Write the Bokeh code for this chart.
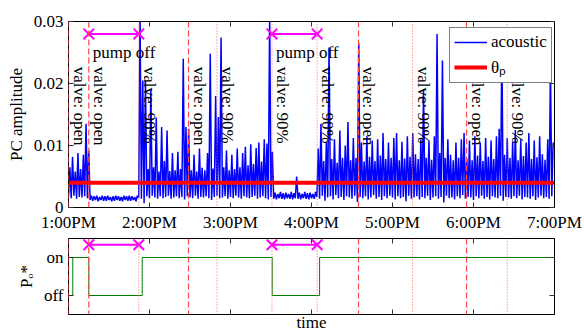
import numpy as np
from bokeh.plotting import figure
from bokeh.layouts import column
from bokeh.models import Range1d, FixedTicker, LinearAxis, Span, Label, Legend, LegendItem
from bokeh.embed import file_html
from bokeh.resources import INLINE

FONT = "Liberation Serif"

# ---------------- data ----------------
hour_ticks = [13, 14, 15, 16, 17, 18, 19]
hour_labels = ["1:00PM", "2:00PM", "3:00PM", "4:00PM", "5:00PM", "6:00PM", "7:00PM"]
amp_ticks = [0, 0.01, 0.02, 0.03]
amp_labels = ["0", "0.01", "0.02", "0.03"]
state_ticks = [0, 1]
state_labels = ["off", "on"]

# acoustic PC amplitude read per 2-minute bin from 1:00PM (units of 1e-3): bin peak and bin trough
bin_minutes = 2
peak_active1 = [6.5, 8.2, 5.8, 8.8, 6.2, 8.5, 13.5, 9.2]
peak_pumpoff1 = [1.9, 1.8, 1.9, 1.7, 1.9, 1.8, 1.9, 1.7, 1.8, 1.9, 1.8, 1.7, 1.9, 1.8, 1.9, 1.8, 1.7, 1.9]
peak_active2 = [31.0, 20.5, 20.5, 6.2, 19.0, 6.5, 14.5, 5.8, 13.0, 7.5,
                12.4, 5.9, 8.8, 6.0, 9.0, 6.2, 24.0, 13.0, 12.7, 6.0,
                8.5, 5.8, 9.5, 6.4, 6.0, 8.8, 24.8, 6.3, 18.0, 14.6,
                27.4, 6.5, 9.2, 6.0, 8.5, 6.2, 9.5, 6.5, 8.8, 9.8,
                6.8, 10.2, 7.0, 9.6, 10.5, 7.4, 11.0, 10.3, 31.0, 9.0]
peak_pumpoff2 = [2.4, 2.2, 2.5, 2.3, 2.4, 2.2, 2.5, 2.3, 5.0, 2.4, 2.2, 2.5, 2.3, 2.4, 2.2, 2.5]
peak_active3 = [9.5, 13.5, 7.5, 10.5, 25.8, 7.8, 11.0, 7.2, 12.4, 8.0,
                10.0, 13.8, 7.6, 11.2, 8.0, 26.5, 10.5, 7.4, 11.5, 8.2,
                10.8, 7.5, 11.0, 8.4, 12.0, 7.8, 10.5, 8.0, 11.2, 12.0,
                7.6, 10.6, 7.9, 11.5, 8.2, 12.0, 8.6, 7.8, 11.0, 19.0,
                8.0, 10.8, 7.7, 11.5, 28.0, 8.8, 23.7, 8.0, 11.0, 8.5,
                7.6, 10.5, 8.0, 11.0, 12.0, 7.9, 10.8, 7.6, 11.5, 8.4,
                10.5, 7.5, 11.2, 8.2, 10.8, 7.8, 11.5, 12.7, 26.0, 8.5,
                11.2, 8.0, 10.6, 12.5, 7.6, 11.0, 8.3, 10.5, 12.0, 7.8,
                10.8, 8.1, 11.5, 8.6, 7.7, 11.0, 23.0, 10.5]
trough_active1 = [1.8, 1.5, 1.9, 1.4, 1.7, 1.6, 1.8, 1.5]
trough_pumpoff1 = [1.2, 1.1, 1.2, 1.0, 1.2, 1.1, 1.1, 1.2, 1.0, 1.1, 1.2, 1.1, 1.0, 1.2, 1.1, 1.1, 1.2, 1.0]
trough_active2 = [1.6, 1.4, 0.7, 1.8, 1.5, 1.9, 1.6, 1.4, 1.8, 1.5,
                  1.7, 1.9, 1.4, 1.6, 1.8, 1.5, 1.7, 1.3, 1.8, 1.6,
                  1.5, 1.9, 1.4, 1.7, 1.6, 1.8, 1.5, 1.2, 1.7, 1.9,
                  1.5, 1.6, 1.8, 1.4, 1.7, 1.5, 1.9, 1.6, 1.4, 1.8,
                  1.6, 1.5, 1.7, 1.9, 1.4, 1.6, 1.8, 1.5, 1.3, 1.7]
trough_pumpoff2 = [1.4, 1.3, 1.5, 1.4, 1.3, 1.5, 1.4, 1.3, 1.5, 1.4, 1.3, 1.5, 1.4, 1.3, 1.5, 1.4]
trough_active3 = [1.7, 1.4, 1.9, 1.1, 1.6, 1.8, 1.3, 2.0, 1.5, 1.7,
                  1.2, 1.8, 1.6, 1.4, 1.9, 0.9, 1.7, 1.5, 1.8, 1.3,
                  1.6, 2.0, 1.4, 1.7, 1.2, 1.8, 1.5, 1.9, 1.6, 1.3,
                  1.8, 1.5, 1.7, 1.0, 1.9, 1.4, 1.6, 1.8, 1.3, 1.7,
                  1.5, 1.9, 1.2, 1.6, 1.8, 1.4, 1.7, 0.8, 1.9, 1.5,
                  1.6, 1.3, 1.8, 1.5, 2.0, 1.4, 1.7, 1.6, 1.2, 1.8,
                  1.5, 1.9, 1.4, 1.7, 1.3, 1.8, 1.6, 1.5, 1.9, 1.1,
                  1.7, 1.6, 1.4, 1.8, 1.5, 1.9, 1.3, 1.7, 1.6, 1.4,
                  1.8, 1.2, 1.6, 1.9, 1.5, 1.7, 1.4, 1.8]

theta_p = 0.004

# events (hours, 24h clock)
valve_open_times = [13.0, 13.2506, 14.4815, 16.58, 17.914]
valve_90_times = [13.868, 14.833, 15.512, 16.070, 17.247, 18.416]
pump_off_start = [13.2506, 15.512]
pump_off_end = [13.868, 16.070]

# pump state P_o*
po_times = [13.0, 13.053, 13.2506, 13.91, 15.515, 16.10, 19.0]
po_state = [0, 1, 0, 1, 0, 1, 1]

# ---------------- build series ----------------
peak_e3 = peak_active1 + peak_pumpoff1 + peak_active2 + peak_pumpoff2 + peak_active3
trough_e3 = trough_active1 + trough_pumpoff1 + trough_active2 + trough_pumpoff2 + trough_active3
n = min(len(peak_e3), len(trough_e3))
t0 = 13 + np.arange(n) * bin_minutes / 60.0
xs = np.empty(2 * n)
ys = np.empty(2 * n)
xs[0::2] = t0
xs[1::2] = t0 + bin_minutes / 120.0
ys[0::2] = np.array(trough_e3[:n]) * 1e-3
ys[1::2] = np.array(peak_e3[:n]) * 1e-3

DASH_COLOR = "#ff4848"
DOT_COLOR = "#ff6060"


def style_axis(ax, ticks, labels, show):
    ax.ticker = FixedTicker(ticks=ticks)
    ax.major_tick_in = 5
    ax.major_tick_out = 0
    ax.minor_tick_line_color = None
    ax.axis_line_color = "black"
    ax.major_tick_line_color = "#333333"
    ax.major_label_text_font = FONT
    if show:
        ax.major_label_overrides = {t: l for t, l in zip(ticks, labels)}
        ax.major_label_text_color = "black"
        ax.major_label_text_font_size = "17px"
        ax.major_label_standoff = 5
    else:
        ax.major_label_text_color = None
        ax.major_label_text_font_size = "0px"
        ax.major_label_standoff = 0


def style_axis_label(ax, text, standoff):
    ax.axis_label = text
    ax.axis_label_text_font = FONT
    ax.axis_label_text_font_size = "17px"
    ax.axis_label_text_font_style = "normal"
    ax.axis_label_text_color = "black"
    ax.axis_label_standoff = standoff


# ---------------- top panel ----------------
x_range = Range1d(hour_ticks[0], hour_ticks[-1])
p1 = figure(width=584, height=235, x_range=x_range, y_range=Range1d(amp_ticks[0], amp_ticks[-1]),
            output_backend="svg", toolbar_location=None,
            min_border_left=68, min_border_right=30, min_border_top=21, min_border_bottom=28)
p1.grid.visible = False
p1.outline_line_color = "black"
p1.background_fill_color = "white"

r_ac = p1.line(xs, ys, line_color="#0000ff", line_width=1.5)
r_th = p1.line([hour_ticks[0], hour_ticks[-1]], [theta_p, theta_p], line_color="#ff0000", line_width=4)

marker_y_top = 0.028
for s, e in zip(pump_off_start, pump_off_end):
    p1.line([s, e], [marker_y_top, marker_y_top], line_color="#ff00ff", line_width=2)
    p1.scatter([s, e], [marker_y_top, marker_y_top], marker="x", size=15, line_color="#ff00ff", line_width=2)

style_axis(p1.xaxis[0], hour_ticks, hour_labels, True)
style_axis(p1.yaxis[0], amp_ticks, amp_labels, True)
style_axis_label(p1.yaxis[0], "PC amplitude", 5)
ax_r = LinearAxis()
style_axis(ax_r, amp_ticks, amp_labels, False)
p1.add_layout(ax_r, "right")
ax_t = LinearAxis()
style_axis(ax_t, hour_ticks, hour_labels, False)
p1.add_layout(ax_t, "above")

for t in valve_open_times:
    p1.add_layout(Span(location=t, dimension="height", line_color=DASH_COLOR, line_dash="6 3", line_width=1.2))
for t in valve_90_times:
    p1.add_layout(Span(location=t, dimension="height", line_color=DOT_COLOR, line_dash="1 2", line_width=1))

label_y = 0.0227
events = sorted([(t, "valve: open") for t in valve_open_times] + [(t, "valve: 90%") for t in valve_90_times])
for t, txt in events:
    p1.add_layout(Label(x=t, y=label_y, text=txt, angle=-np.pi / 2, text_font=FONT, text_font_size="17px",
                        text_align="left", text_baseline="bottom", x_offset=1, text_color="black"))

for s in pump_off_start:
    p1.add_layout(Label(x=s, y=0.025, text="pump off", text_font=FONT, text_font_size="17px",
                        text_align="left", text_baseline="alphabetic", x_offset=4, text_color="black"))

legend = Legend(items=[LegendItem(label="acoustic", renderers=[r_ac]),
                       LegendItem(label="θₚ", renderers=[r_th])],
                location=(381, 124), orientation="vertical",
                label_text_font=FONT, label_text_font_size="17px", label_text_color="black",
                glyph_width=33, glyph_height=18, label_height=20, label_standoff=4,
                spacing=3, padding=4, margin=0,
                border_line_color="black", border_line_width=1,
                background_fill_color="white", background_fill_alpha=1.0)
p1.add_layout(legend)

# ---------------- bottom panel ----------------
p2 = figure(width=584, height=99, x_range=x_range, y_range=Range1d(-0.5, 1.5),
            output_backend="svg", toolbar_location=None,
            min_border_left=68, min_border_right=30, min_border_top=3, min_border_bottom=19)
p2.grid.visible = False
p2.outline_line_color = "black"

p2.step(po_times, po_state, mode="after", line_color="#008000", line_width=1)
marker_y_bot = 1.336
for s, e in zip(pump_off_start, pump_off_end):
    p2.line([s, e], [marker_y_bot, marker_y_bot], line_color="#ff00ff", line_width=2)
    p2.scatter([s, e], [marker_y_bot, marker_y_bot], marker="x", size=15, line_color="#ff00ff", line_width=2)

style_axis(p2.xaxis[0], hour_ticks, hour_labels, False)
style_axis_label(p2.xaxis[0], "time", -2)
style_axis(p2.yaxis[0], state_ticks, state_labels, True)
style_axis_label(p2.yaxis[0], "Pₒ*", 5)
ax_r2 = LinearAxis()
style_axis(ax_r2, state_ticks, state_labels, False)
p2.add_layout(ax_r2, "right")
ax_t2 = LinearAxis()
style_axis(ax_t2, hour_ticks, hour_labels, False)
p2.add_layout(ax_t2, "above")

for t in valve_open_times:
    p2.add_layout(Span(location=t, dimension="height", line_color=DASH_COLOR, line_dash="6 3", line_width=1.2))
for t in valve_90_times:
    p2.add_layout(Span(location=t, dimension="height", line_color=DOT_COLOR, line_dash="1 2", line_width=1))

layout = column(p1, p2)
open("out.html", "w").write(file_html(layout, INLINE))
